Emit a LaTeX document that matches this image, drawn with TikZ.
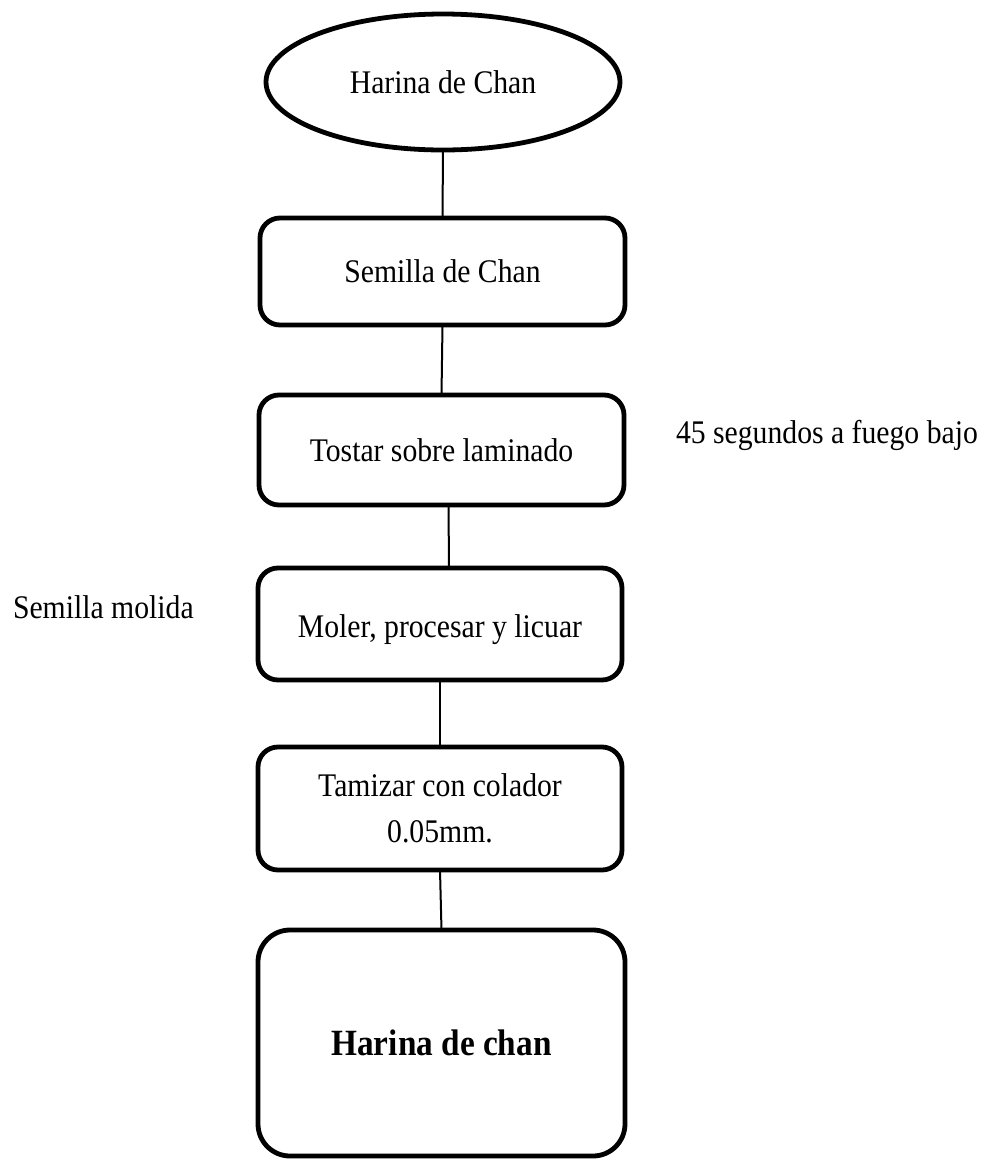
\documentclass[tikz,border=0pt]{standalone}
\usepackage{fontspec}
\setmainfont{Liberation Serif}[FakeStretch=0.9]
\usetikzlibrary{shapes.geometric}
\begin{document}
\begin{tikzpicture}[x=1pt,y=-1pt,
  every node/.style={inner sep=0pt, outer sep=0pt},
  txt/.style={font=\fontsize{33}{46}\selectfont},
  stepbox/.style={draw, line width=4.8pt, rounded corners=20pt, align=center, txt},
  startel/.style={draw, ellipse, line width=4.8pt, txt},
  conn/.style={line width=2pt}]
\useasboundingbox (0,0) rectangle (1002,1160);
\node[startel, minimum width=354pt, minimum height=136pt] (e) at (443,82) {Harina de Chan};
\node[stepbox, minimum width=365pt, minimum height=107pt] (b1) at (442.5,271.5) {Semilla de Chan};
\node[stepbox, minimum width=365pt, minimum height=110pt] (b2) at (441.5,450) {Tostar sobre laminado};
\node[stepbox, minimum width=364pt, minimum height=112pt] (b3) at (440,624) {};
\node[txt] (t3) at ([yshift=-6pt]b3.center) {Moler, procesar y licuar};
\node[stepbox, minimum width=364pt, minimum height=123pt] (b4) at (440,808.5) {Tamizar con colador\\0.05mm.};
\node[stepbox, rounded corners=32pt, minimum width=367pt, minimum height=226pt, font=\fontsize{37}{44}\selectfont\bfseries] (b5) at (441.5,1043) {Harina de chan};
\node[txt, anchor=west] (n1) at (676,435) {45 segundos a fuego bajo};
\node[txt, anchor=west] (n2) at (13,607) {Semilla molida};
\draw[conn] (e.south) -- (b1.north);
\draw[conn] (b1.south) -- (b2.north);
\draw[conn] ([xshift=7pt]b2.south) -- ([xshift=9pt]b3.north);
\draw[conn] (b3.south) -- (b4.north);
\draw[conn] (b4.south) -- (b5.north);
\end{tikzpicture}
\end{document}
